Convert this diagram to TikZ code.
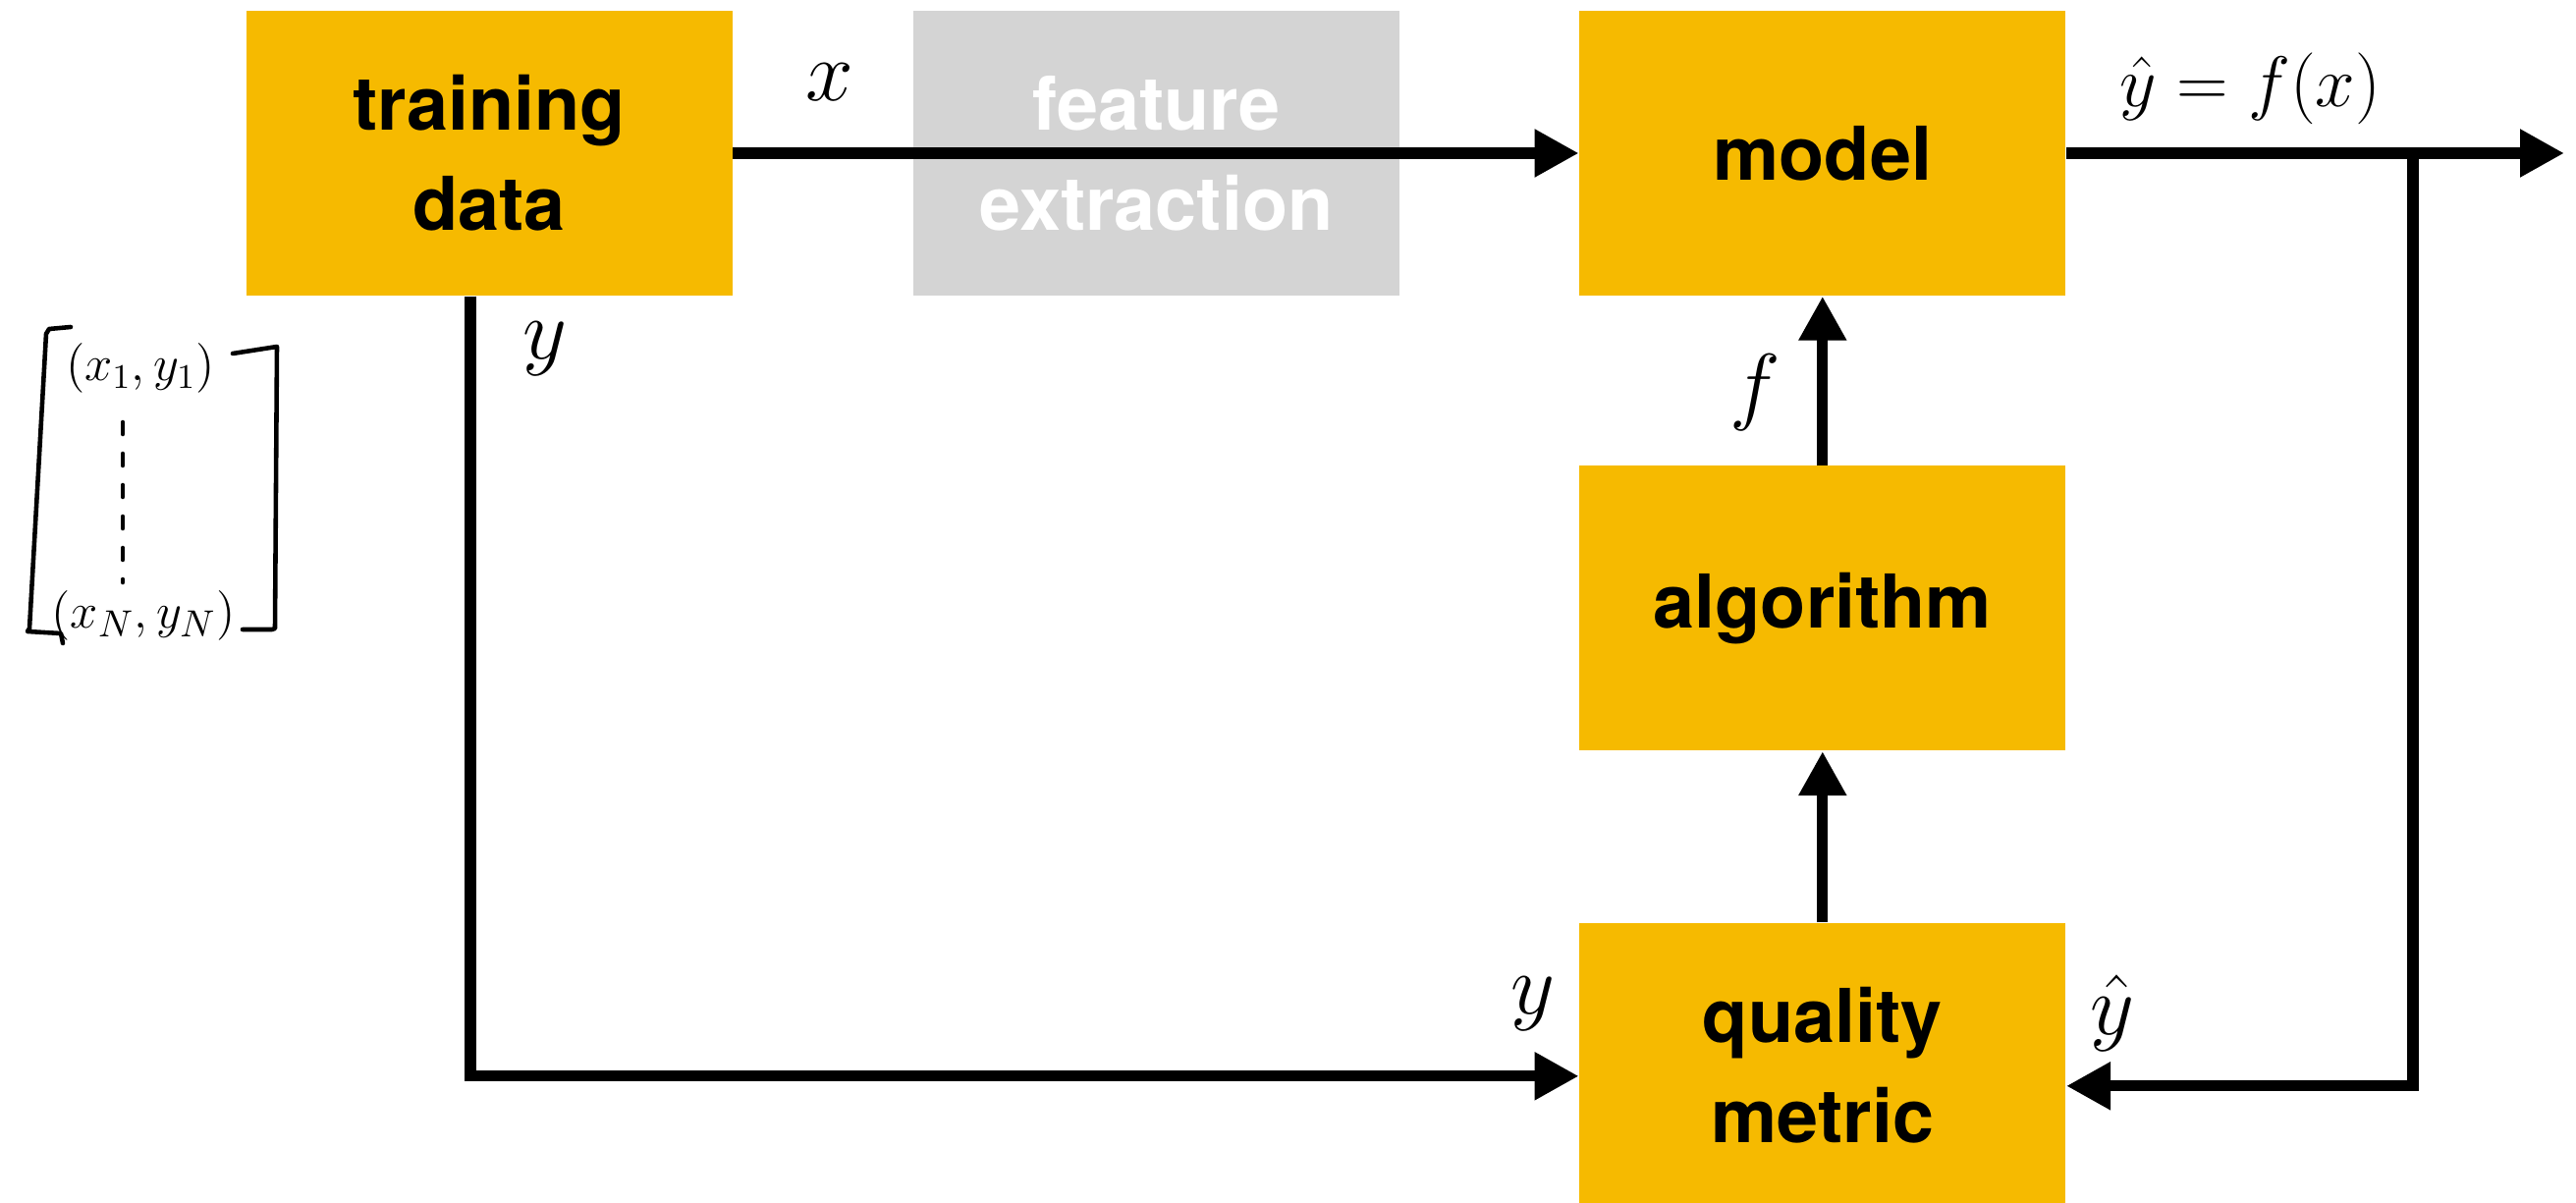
\documentclass[tikz,border=0pt]{standalone}
\usepackage{fontspec}
\setsansfont{TeX Gyre Heros}
\usetikzlibrary{arrows.meta,positioning}

\definecolor{blockyellow}{HTML}{F6BA00}
\definecolor{blockgrey}{HTML}{D4D4D4}

\begin{document}
\begin{tikzpicture}[
    block/.style={fill=blockyellow,minimum width=4.95cm,minimum height=2.9cm,
      align=center,inner sep=0pt,font=\sffamily\bfseries\fontsize{21.5}{29}\selectfont},
    flow/.style={line width=3.2pt,-{Triangle[length=0.45cm,width=0.46cm]}},
    lbl/.style={inner sep=0pt,font=\fontsize{24}{28}\selectfont},
    hand/.style={line width=1.3pt,line cap=round,line join=round}]
  \useasboundingbox (0,0) rectangle (26.23,-12.25);

  % boxes
  \node[block] (train) at (4.98,-1.56) {training\\data};
  \node[block,fill=blockgrey,text=white,right=1.83cm of train] (feat) {feature\\extraction};
  \node[block,right=1.82cm of feat] (model) {model};
  \node[block,below=1.72cm of model] (algo) {algorithm};
  \node[block,below=1.74cm of algo] (qual) {quality\\metric};

  % output end and branch point
  \coordinate[right=3.53cm of model.east] (split);
  \coordinate[right=5.07cm of model.east] (out);

  % connectors
  \draw[flow] (train.east) -- (model.west);
  \draw[flow] (model.east) -- (out);
  \draw[flow] (algo.north) -- (model.south);
  \draw[flow] (qual.north) -- (algo.south);
  \draw[flow] ([xshift=-1.9mm]train.south) |- ([yshift=-1.1mm]qual.west);
  \draw[flow] (split) |- ([yshift=-2.1mm]qual.east);

  % labels
  \node[lbl] (xlab) at (8.45,-0.84) {$x$};
  \node[lbl] (ylab) at (5.55,-3.55) {$y$};
  \node[lbl] (flab) at (17.87,-4.0) {$f$};
  \node[lbl] (yqlab) at (15.61,-10.22) {$y$};
  \node[lbl] (yhatlab) at (21.51,-10.32) {$\hat{y}$};
  \node[lbl,anchor=west,font=\fontsize{22}{26}\selectfont] (outlab) at (21.58,-0.90) {$\hat{y} = f(x)$};

  % data set sketch
  \draw[hand] (0.72,-3.33) -- (0.50,-3.35) -- (0.47,-3.40) -- (0.30,-6.40)
    -- (0.28,-6.43) -- (0.62,-6.45) -- (0.64,-6.55);
  \draw[hand] (2.37,-3.60) -- (2.82,-3.53) -- (2.80,-6.40) -- (2.77,-6.41) -- (2.47,-6.41);
  \draw[hand,dash pattern=on 0.12cm off 0.2cm] (1.25,-4.30) -- (1.25,-5.93);
  \node[inner sep=0pt,font=\fontsize{14.4}{17}\selectfont] (first) at (1.43,-3.75) {$(x_1,y_1)$};
  \node[inner sep=0pt,font=\fontsize{15}{18}\selectfont] (last) at (1.46,-6.27) {$(x_N,y_N)$};
\end{tikzpicture}
\end{document}
